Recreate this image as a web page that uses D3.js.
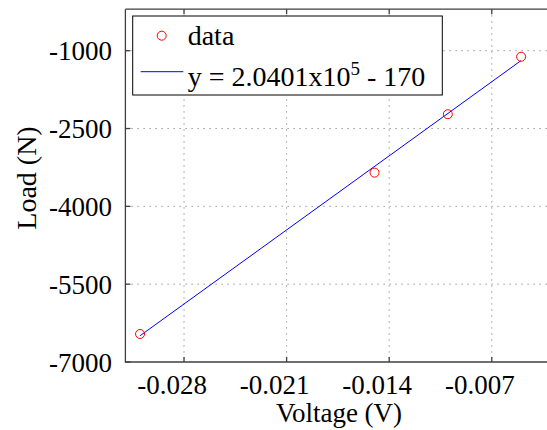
<!DOCTYPE html>
<html>
<head>
<meta charset="utf-8">
<script src="https://cdn.jsdelivr.net/npm/d3@7"></script>
<style>
  html, body { margin: 0; padding: 0; background: #fff; }
  svg { display: block; }
</style>
</head>
<body>
<svg id="chart" width="547" height="430" font-family="'Liberation Serif', 'DejaVu Serif', 'Times New Roman', serif"></svg>
<script>
// Measured load against voltage
const voltage = [-0.031, -0.015, -0.010, -0.005];
const load = [-6460, -3350, -2224, -1116];

// Linear fit shown in the legend
const fitSlope = 2.0401e5;
const fitIntercept = -170;

// Axis ticks
const xTicks = [-0.028, -0.021, -0.014, -0.007];
const xTickLabels = ["-0.028", "-0.021", "-0.014", "-0.007"];
const yTicks = [-7000, -5500, -4000, -2500, -1000];
const yTickLabels = ["-7000", "-5500", "-4000", "-2500", "-1000"];

const plot = { left: 125.4, right: 550.4, top: 9.2, bottom: 362 };

const svg = d3.select("#chart");

const x = d3.scaleLinear().domain([-0.032, -0.003]).range([plot.left, plot.right]);
const y = d3.scaleLinear().domain([-7000, -200]).range([plot.bottom, plot.top]);

// dotted grid
const grid = svg.append("g")
  .attr("stroke", "#9a9a9a")
  .attr("stroke-width", 1)
  .attr("stroke-dasharray", "1.5,4.5");
grid.selectAll("line.vx").data(xTicks).join("line")
  .attr("x1", d => x(d)).attr("x2", d => x(d))
  .attr("y1", plot.top).attr("y2", plot.bottom);
grid.selectAll("line.hy").data(yTicks.filter(d => d > -7000)).join("line")
  .attr("x1", plot.left).attr("x2", plot.right)
  .attr("y1", d => y(d)).attr("y2", d => y(d));

// axes frame (left, bottom, top)
const axisColor = "#3f3f3f";
const frame = svg.append("g").attr("stroke", axisColor).attr("stroke-width", 1.3).attr("fill", "none");
frame.append("path")
  .attr("d", `M${plot.left},${plot.top}V${plot.bottom}H${plot.right}`);
frame.append("path")
  .attr("d", `M${plot.left},${plot.top}H${plot.right}`);

// inward tick marks
const tickLen = 5;
frame.selectAll("line.bt").data(xTicks).join("line")
  .attr("class", "bt")
  .attr("x1", d => x(d)).attr("x2", d => x(d))
  .attr("y1", plot.bottom).attr("y2", plot.bottom - tickLen);
frame.selectAll("line.tt").data(xTicks).join("line")
  .attr("class", "tt")
  .attr("x1", d => x(d)).attr("x2", d => x(d))
  .attr("y1", plot.top).attr("y2", plot.top + tickLen);
frame.selectAll("line.lt").data(yTicks).join("line")
  .attr("class", "lt")
  .attr("x1", plot.left).attr("x2", plot.left + tickLen)
  .attr("y1", d => y(d)).attr("y2", d => y(d));

// tick labels
svg.append("g").selectAll("text").data(xTicks).join("text")
  .attr("x", d => x(d) - 12)
  .attr("y", 394)
  .attr("text-anchor", "middle")
  .attr("font-size", 27)
  .text((d, i) => xTickLabels[i]);

svg.append("g").selectAll("text").data(yTicks).join("text")
  .attr("x", 112)
  .attr("y", d => y(d) + 9.5)
  .attr("text-anchor", "end")
  .attr("font-size", 27)
  .text((d, i) => yTickLabels[i]);

// axis titles
svg.append("text")
  .attr("x", 339).attr("y", 421.5)
  .attr("text-anchor", "middle")
  .attr("font-size", 27)
  .text("Voltage (V)");

svg.append("text")
  .attr("transform", "translate(36,178) rotate(-90)")
  .attr("text-anchor", "middle")
  .attr("font-size", 28)
  .text("Load (N)");

// fit line over the measured voltage range
const xExtent = d3.extent(voltage);
const fitLine = d3.line().x(d => x(d)).y(d => y(fitSlope * d + fitIntercept));
svg.append("path")
  .datum(xExtent)
  .attr("d", fitLine)
  .attr("fill", "none")
  .attr("stroke", "#0000ff")
  .attr("stroke-width", 1);

// data markers
svg.append("g").selectAll("circle").data(voltage).join("circle")
  .attr("cx", d => x(d))
  .attr("cy", (d, i) => y(load[i]))
  .attr("r", 4.5)
  .attr("fill", "none")
  .attr("stroke", "#ff0000")
  .attr("stroke-width", 1);

// legend
const legend = svg.append("g");
legend.append("rect")
  .attr("x", 132.7).attr("y", 16)
  .attr("width", 309.6).attr("height", 79)
  .attr("fill", "#fff")
  .attr("stroke", "#000")
  .attr("stroke-width", 1);
legend.append("circle")
  .attr("cx", 161.7).attr("cy", 35.7).attr("r", 4.5)
  .attr("fill", "none").attr("stroke", "#ff0000").attr("stroke-width", 1);
legend.append("text")
  .attr("x", 187.7).attr("y", 45)
  .attr("font-size", 28)
  .text("data");
legend.append("line")
  .attr("x1", 140.7).attr("x2", 183.3)
  .attr("y1", 71.7).attr("y2", 71.7)
  .attr("stroke", "#0000ff").attr("stroke-width", 1);
const eq = legend.append("text")
  .attr("x", 187.7).attr("y", 86)
  .attr("font-size", 28);
eq.append("tspan").text("y = 2.0401x10");
eq.append("tspan").attr("font-size", 19).attr("dy", -11).text("5");
eq.append("tspan").attr("dy", 11).text(" - 170");
</script>
</body>
</html>
